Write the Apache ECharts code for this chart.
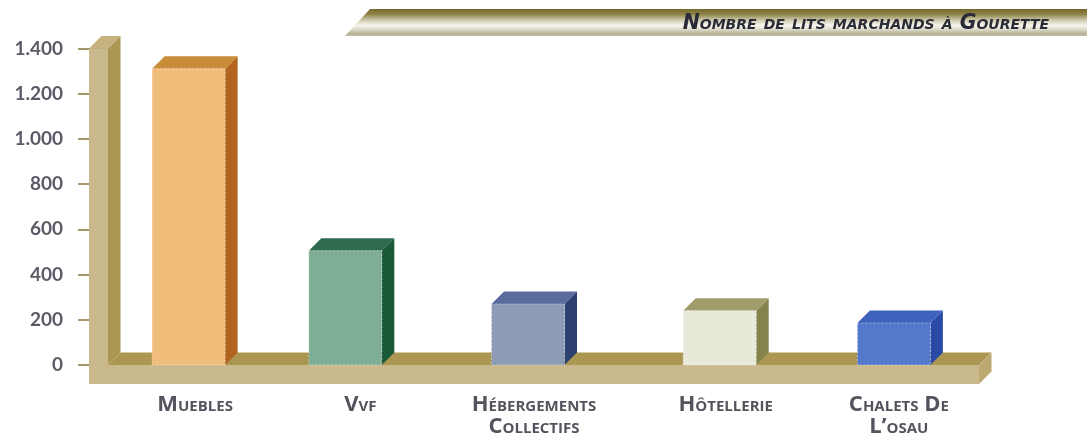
<!DOCTYPE html>
<html>
<head>
<meta charset="utf-8">
<style>html,body{margin:0;padding:0;background:#fff}#chart{width:1087px;height:435px}</style>
<script src="https://cdn.jsdelivr.net/npm/echarts@6/dist/echarts.min.js"></script>
</head>
<body>
<div id="chart"></div>
<script>
// Marketable beds at Gourette, by type of accommodation
const chartTitle = 'Nombre de lits marchands à Gourette';
const categories = ['Muebles', 'Vvf', 'Hébergements\nCollectifs', 'Hôtellerie', 'Chalets De\nL’osau'];
const beds = [1310, 505, 270, 240, 186];
const axisMax = 1400;
const axisStep = 200;

// Box shades: front, top, side
const boxShades = [
  ['#f1bd7b', '#c98d3a', '#b2651f'],
  ['#7fae96', '#2e6b4e', '#1b5a38'],
  ['#8e9bb6', '#5a6c9c', '#2c4170'],
  ['#e9e9da', '#a09c6c', '#83834c'],
  ['#5478cc', '#3f62bd', '#2a4aa8']
];
// Horizontal layout tweaks (pixels) from each category's centre
const boxShift = [-6.5, -24, -15.5, 2, 2];
const labelShift = [0, -9, -9.5, 8, 7];
const depth = 12.5;
const boxWidth = 73;
const wallWidth = 19;
const floorThickness = 19;
const labelFont = '"Open Sans", "Noto Sans", sans-serif';
const numberFont = 'Lato, "Noto Sans", sans-serif';
const titleFont = '"DejaVu Sans", sans-serif';

const chart = echarts.init(document.getElementById('chart'), null, {renderer: 'canvas'});

function poly(points, fill, extra) {
  return Object.assign({type: 'polygon', shape: {points}, style: {fill}}, extra || {});
}

// L-shaped support: the wall behind the value axis and the floor under the boxes
function renderFrame(params) {
  const g = params.coordSys;
  const l = g.x, r = g.x + g.width, t = g.y, b = g.y + g.height;
  const front = '#c9b98c', inner = '#ab9751';
  return {type: 'group', children: [
    poly([[l, t], [l + depth, t - depth], [l + depth, b - depth], [l, b]], inner),
    poly([[l - wallWidth, t], [l - wallWidth + depth, t - depth], [l + depth, t - depth], [l, t]], '#c5b27e'),
    poly([[l, b], [l + depth, b - depth], [r + depth, b - depth], [r, b]], inner),
    poly([[l - wallWidth, t], [l, t], [l, b], [r, b], [r, b + floorThickness], [l - wallWidth, b + floorThickness]], front),
    poly([[r, b], [r + depth, b - depth], [r + depth, b - depth + floorThickness], [r, b + floorThickness]], '#bba971')
  ]};
}

function renderBox(params, api) {
  const i = api.value(0);
  const base = api.coord([i, 0]);
  const top = api.coord([i, api.value(1)]);
  const x0 = base[0] + boxShift[i] - boxWidth / 2;
  const x1 = x0 + boxWidth;
  const [front, lid, side] = boxShades[i];
  return {type: 'group', children: [
    poly([[x1, top[1]], [x1 + depth, top[1] - depth], [x1 + depth, base[1] - depth], [x1, base[1]]], side),
    poly([[x0, top[1]], [x0 + depth, top[1] - depth], [x1 + depth, top[1] - depth], [x1, top[1]]], lid),
    {type: 'polygon', shape: {points: [[x0, top[1]], [x1, top[1]], [x1, base[1]], [x0, base[1]]]},
     style: {fill: front, stroke: 'rgba(255,255,255,0.45)', lineWidth: 1, lineDash: [2, 2]}}
  ]};
}

chart.setOption({
  animation: false,
  backgroundColor: '#ffffff',
  title: {
    text: chartTitle,
    right: 33, top: 9, z: 10,
    textStyle: {fontFamily: titleFont, fontStyle: 'italic small-caps', fontWeight: 700, fontSize: 20.4, color: '#2b2b38'}
  },
  graphic: [{
    type: 'polygon', z: 0, silent: true,
    shape: {points: [[370, 9], [1087, 9], [1087, 36], [345, 36]]},
    style: {fill: new echarts.graphic.LinearGradient(0, 0, 0, 1, [
      {offset: 0, color: '#75672c'},
      {offset: 0.2, color: '#8f8549'},
      {offset: 0.42, color: '#cfcbb0'},
      {offset: 0.6, color: '#f6f5ee'},
      {offset: 0.75, color: '#dedccb'},
      {offset: 0.92, color: '#b4b195'},
      {offset: 1, color: '#c4c2aa'}
    ])}
  }],
  grid: {left: 108, right: 108, top: 48.5, bottom: 70, outerBoundsMode: 'none'},
  xAxis: {
    type: 'category',
    data: categories.map((c, i) => ({
      value: c,
      textStyle: {padding: labelShift[i] >= 0 ? [0, 0, 0, labelShift[i] * 2] : [0, -labelShift[i] * 2, 0, 0]}
    })),
    axisLine: {show: false},
    axisTick: {show: false},
    axisLabel: {
      interval: 0, margin: 29, lineHeight: 22,
      fontFamily: labelFont, fontStyle: 'small-caps', fontWeight: 700, fontSize: 22, color: '#54545f'
    }
  },
  yAxis: {
    type: 'value', min: 0, max: axisMax, interval: axisStep,
    splitLine: {show: false},
    axisLine: {show: false},
    axisTick: {show: true, length: 30, lineStyle: {color: '#a39668', width: 2}},
    axisLabel: {
      margin: 45, fontFamily: numberFont, fontWeight: 700, fontSize: 19, color: '#5b5b68',
      formatter: v => String(v).replace(/\B(?=(\d{3})+$)/g, '.')
    }
  },
  series: [
    {type: 'custom', name: 'Support', z: 3, silent: true, data: [[0, 0]], renderItem: renderFrame, clip: false},
    {type: 'custom', name: 'Lits marchands', z: 4, silent: true, data: beds.map((v, i) => [i, v]),
     encode: {x: 0, y: 1}, renderItem: renderBox, clip: false}
  ]
});
</script>
</body>
</html>
